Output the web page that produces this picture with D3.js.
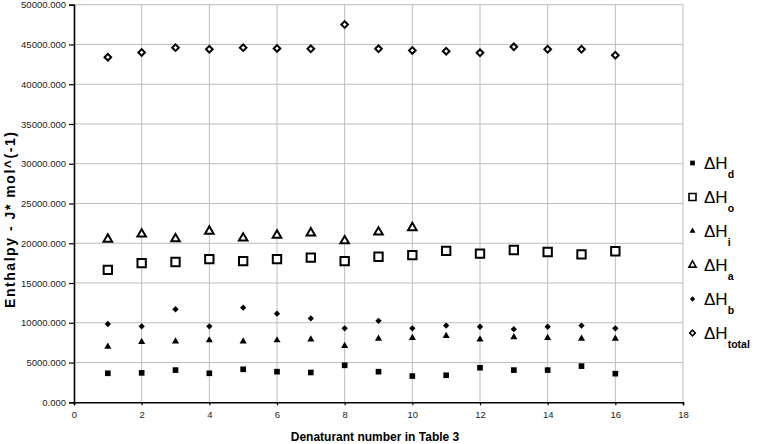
<!DOCTYPE html>
<html>
<head>
<meta charset="utf-8">
<script src="https://d3js.org/d3.v7.min.js"></script>
<style>
  html, body { margin: 0; padding: 0; background: #fff; }
  svg { display: block; font-family: "Liberation Sans", Arial, sans-serif; }
</style>
</head>
<body>
<svg id="chart" width="757" height="444"></svg>
<script>
// Denaturant numbers (x) and enthalpy series
const denaturants = [1, 2, 3, 4, 5, 6, 7, 8, 9, 10, 11, 12, 13, 14, 15, 16];
const dHd = [3650, 3700, 4050, 3650, 4150, 3850, 3750, 4650, 3850, 3300, 3400, 4350, 4050, 4050, 4550, 3600];
const dHo = [16650, 17500, 17650, 18000, 17750, 18000, 18200, 17750, 18300, 18500, 19050, 18700, 19150, 18900, 18600, 19000];
const dHi = [7000, 7600, 7650, 7800, 7650, 7800, 7900, 7100, 8000, 8100, 8350, 7900, 8200, 8100, 8000, 8000];
const dHa = [20500, 21150, 20550, 21500, 20650, 21000, 21300, 20300, 21400, 21950];
const dHb = [9850, 9550, 11700, 9550, 11900, 11150, 10550, 9300, 10250, 9300, 9650, 9500, 9200, 9500, 9650, 9300];
const dHtotal = [43400, 44000, 44600, 44400, 44600, 44500, 44450, 47500, 44450, 44250, 44150, 43950, 44700, 44400, 44400, 43650];

const xTicks = [0, 2, 4, 6, 8, 10, 12, 14, 16, 18];
const yTicks = [0, 5000, 10000, 15000, 20000, 25000, 30000, 35000, 40000, 45000, 50000];

// series: subscript, symbol, filled, symbol size (area), stroke width
const series = [
  { sub: 'd', values: dHd, sym: d3.symbolSquare, fill: true, size: 32, sw: 0 },
  { sub: 'o', values: dHo, sym: d3.symbolSquare, fill: false, size: 70, sw: 2 },
  { sub: 'i', values: dHi, sym: d3.symbolTriangle, fill: true, size: 22, sw: 0 },
  { sub: 'a', values: dHa, sym: d3.symbolTriangle, fill: false, size: 32, sw: 2 },
  { sub: 'b', values: dHb, sym: d3.symbolSquare, fill: true, size: 20, sw: 0, rot: 45 },
  { sub: 'total', values: dHtotal, sym: d3.symbolSquare, fill: false, size: 22, sw: 2, rot: 45 },
];

const svg = d3.select('#chart');
const plotL = 74, plotR = 683, plotT = 4.7, plotB = 402.3;

const x = d3.scaleLinear().domain([0, 18]).range([plotL, plotR]);
const y = d3.scaleLinear().domain([0, 50000]).range([plotB, plotT]);

// gridlines
svg.append('g').selectAll('line').data(yTicks.filter(t => t > 0)).join('line')
  .attr('x1', plotL).attr('x2', plotR)
  .attr('y1', d => y(d)).attr('y2', d => y(d))
  .attr('stroke', '#bdbdbd').attr('stroke-width', 1);
svg.append('g').selectAll('line').data(xTicks.filter(t => t > 0)).join('line')
  .attr('x1', d => x(d)).attr('x2', d => x(d))
  .attr('y1', plotT).attr('y2', plotB)
  .attr('stroke', '#bdbdbd').attr('stroke-width', 1);

// axes
const yAxis = svg.append('g').attr('transform', `translate(${plotL},0)`)
  .call(d3.axisLeft(y).tickValues(yTicks).tickFormat(d3.format('.3f')).tickSize(5).tickPadding(3));
const xAxis = svg.append('g').attr('transform', `translate(0,${plotB})`)
  .call(d3.axisBottom(x).tickValues(xTicks).tickFormat(d3.format('d')).tickSize(3).tickPadding(6));
[yAxis, xAxis].forEach(a => {
  a.select('.domain').attr('stroke', '#000').attr('stroke-width', 1.6);
  a.selectAll('.tick line').attr('stroke', '#000').attr('stroke-width', 1.2);
  a.selectAll('.tick text').attr('fill', '#222').attr('font-size', '9.5px')
    .attr('font-family', '"Liberation Sans", Arial, sans-serif');
});

// points
series.forEach(s => {
  const sym = d3.symbol().type(s.sym).size(s.size);
  svg.append('g').selectAll('path').data(s.values).join('path')
    .attr('d', sym)
    .attr('transform', (d, i) => `translate(${x(denaturants[i])},${y(d)})` + (s.rot ? ` rotate(${s.rot})` : ''))
    .attr('fill', s.fill ? '#000' : '#fff')
    .attr('stroke', s.fill ? 'none' : '#000')
    .attr('stroke-width', s.sw);
});

// legend
const legend = svg.append('g');
series.forEach((s, i) => {
  const ly = 163 + i * 34;
  const sym = d3.symbol().type(s.sym).size(s.size * 0.7);
  legend.append('path').attr('d', sym)
    .attr('transform', `translate(692.5,${ly})` + (s.rot ? ` rotate(${s.rot})` : ''))
    .attr('fill', s.fill ? '#000' : '#fff')
    .attr('stroke', s.fill ? 'none' : '#000')
    .attr('stroke-width', s.sw * 0.8);
  const t = legend.append('text').attr('x', 704).attr('y', ly + 6)
    .attr('font-size', '17px').attr('fill', '#000');
  t.append('tspan').text('ΔH');
  t.append('tspan').attr('dy', 9).attr('font-size', '10.5px').attr('font-weight', 'bold').text(s.sub);
});

// axis titles
svg.append('text').attr('x', 375).attr('y', 441).attr('text-anchor', 'middle')
  .attr('font-size', '12px').attr('font-weight', 'bold').attr('fill', '#000')
  .text('Denaturant number in Table 3');
svg.append('text').attr('transform', 'translate(15,220) rotate(-90)').attr('text-anchor', 'middle')
  .attr('font-size', '14px').attr('font-weight', 'bold').attr('fill', '#000')
  .attr('textLength', 176).attr('lengthAdjust', 'spacing')
  .text('Enthalpy - J* mol^(-1)');
</script>
</body>
</html>
